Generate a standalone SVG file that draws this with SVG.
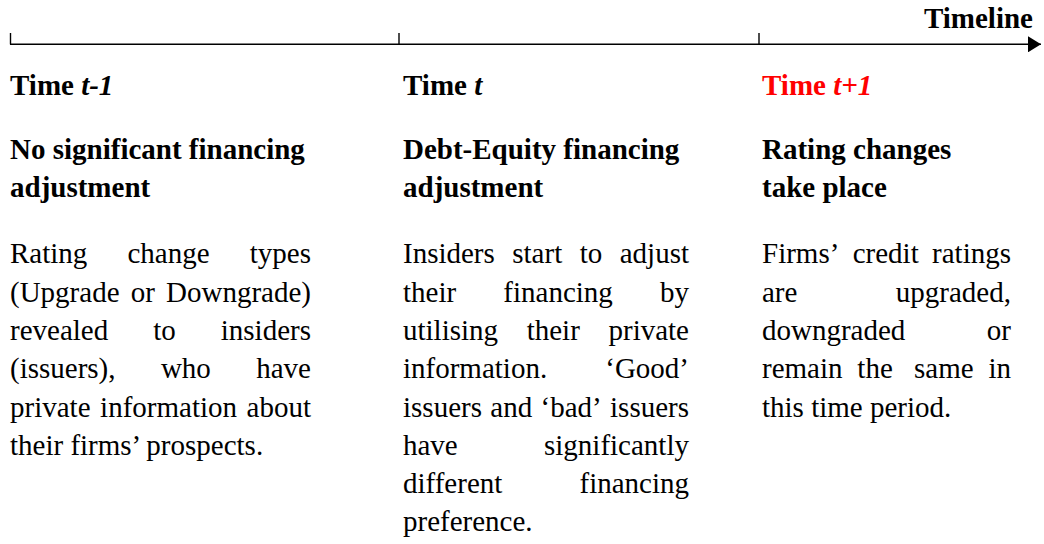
<svg xmlns="http://www.w3.org/2000/svg" width="1044" height="544" viewBox="0 0 1044 544">
<style>
text{font-family:"Liberation Serif","Times New Roman",serif;font-size:29px;fill:#000}
.b{font-weight:bold}
.i{font-style:italic}
.red{fill:#ff0000}
.ln{stroke:#000;stroke-width:1.4;fill:none}
</style>
<defs>
<marker id="ah" markerUnits="userSpaceOnUse" markerWidth="14" markerHeight="16" refX="13" refY="8" orient="auto">
<path d="M0,0 L13,8 L0,16 Z" fill="#000"/>
</marker>
</defs>
<rect width="1044" height="544" fill="#fff"/>
<g id="connectors">
<line class="ln" x1="10" y1="44.3" x2="1041" y2="44.3" marker-end="url(#ah)"/>
<line class="ln" x1="10.5" y1="33" x2="10.5" y2="44.3"/>
<line class="ln" x1="399" y1="33" x2="399" y2="44.3"/>
<line class="ln" x1="759" y1="33" x2="759" y2="44.3"/>
</g>
<g id="timeline-label">
<text class="b" x="1033" y="28.3" text-anchor="end">Timeline</text>
</g>
<g id="node-t-minus-1">
<text class="b" x="10" y="94.7">Time <tspan class="i">t-1</tspan></text>
<text class="b" x="10" y="159">No significant financing</text>
<text class="b" x="10" y="196.5">adjustment</text>
<text y="263.3"><tspan x="10">Rating</tspan><tspan x="127.5">change</tspan><tspan x="249.78">types</tspan></text>
<text y="301.6"><tspan x="10">(Upgrade</tspan><tspan x="130.7">or</tspan><tspan x="166.06">Downgrade)</tspan></text>
<text y="339.9"><tspan x="10">revealed</tspan><tspan x="153.22">to</tspan><tspan x="220.78">insiders</tspan></text>
<text y="378.2"><tspan x="10">(issuers),</tspan><tspan x="160.9">who</tspan><tspan x="256.25">have</tspan></text>
<text y="416.5"><tspan x="10">private</tspan><tspan x="100.08">information</tspan><tspan x="246.56">about</tspan></text>
<text x="10" y="454.8">their firms’ prospects.</text>
</g>
<g id="node-t">
<text class="b" x="403" y="94.7">Time <tspan class="i">t</tspan></text>
<text class="b" x="403" y="159">Debt-Equity financing</text>
<text class="b" x="403" y="196.5">adjustment</text>
<text y="263.3"><tspan x="403">Insiders</tspan><tspan x="512.28">start</tspan><tspan x="579.69">to</tspan><tspan x="619.72">adjust</tspan></text>
<text y="301.6"><tspan x="403">their</tspan><tspan x="503.32">financing</tspan><tspan x="660">by</tspan></text>
<text y="339.9"><tspan x="403">utilising</tspan><tspan x="526.7">their</tspan><tspan x="608.47">private</tspan></text>
<text y="378.2"><tspan x="403">information.</tspan><tspan x="605.25">‘Good’</tspan></text>
<text y="416.5"><tspan x="403">issuers</tspan><tspan x="490.29">and</tspan><tspan x="540.52">‘bad’</tspan><tspan x="610.06">issuers</tspan></text>
<text y="454.8"><tspan x="403">have</tspan><tspan x="544">significantly</tspan></text>
<text y="493.1"><tspan x="403">different</tspan><tspan x="579.47">financing</tspan></text>
<text x="403" y="531.4">preference.</text>
</g>
<g id="node-t-plus-1">
<text class="b red" x="762" y="94.7">Time <tspan class="i">t+1</tspan></text>
<text class="b" x="762" y="159">Rating changes</text>
<text class="b" x="762" y="196.5">take place</text>
<text y="263.3"><tspan x="762">Firms’</tspan><tspan x="852.69">credit</tspan><tspan x="932.06">ratings</tspan></text>
<text y="301.6"><tspan x="762">are</tspan><tspan x="895.84">upgraded,</tspan></text>
<text y="339.9"><tspan x="762">downgraded</tspan><tspan x="986.84">or</tspan></text>
<text y="378.2"><tspan x="762">remain</tspan><tspan x="857.34">the</tspan><tspan x="914.03">same</tspan><tspan x="988.44">in</tspan></text>
<text x="762" y="416.5">this time period.</text>
</g>
</svg>
